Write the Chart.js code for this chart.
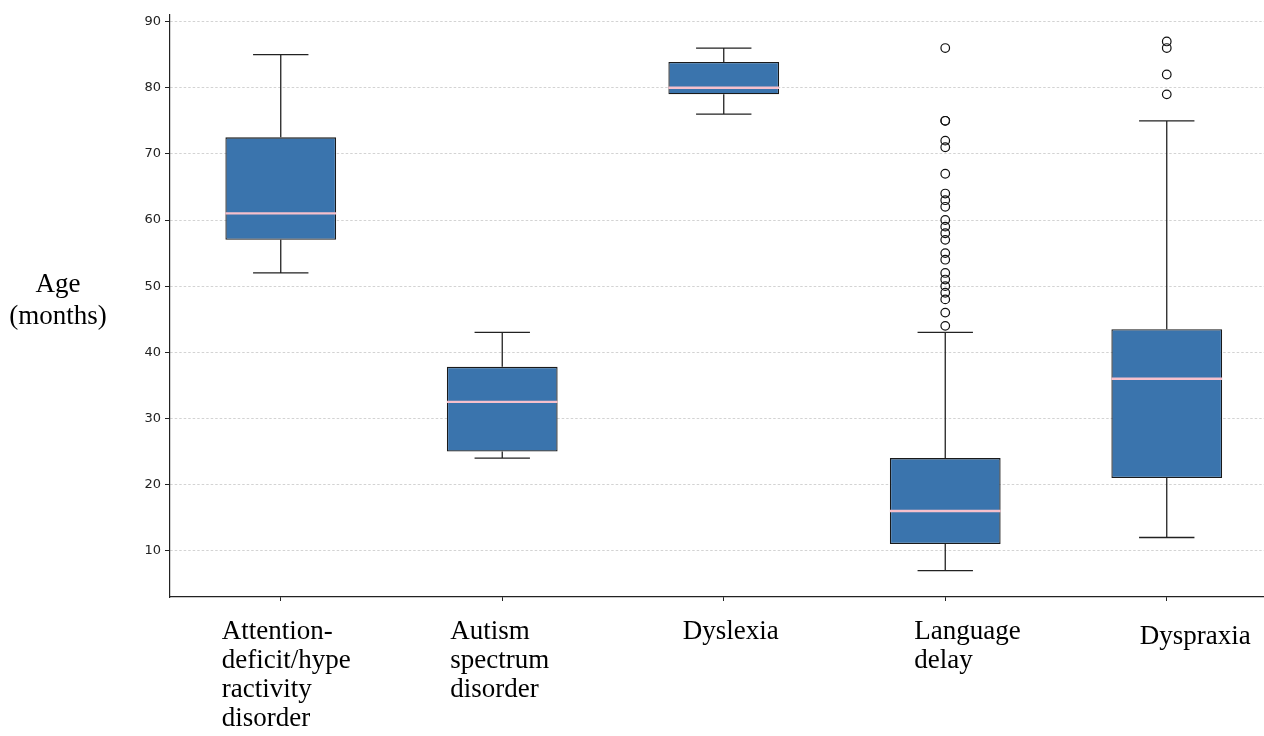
<!DOCTYPE html>
<html>
<head>
<meta charset="utf-8">
<script src="https://cdn.jsdelivr.net/npm/chart.js@4.4.1/dist/chart.umd.min.js"></script>
<style>
  html, body { margin: 0; padding: 0; background: #fff; overflow: hidden; }
  #wrap { position: relative; width: 1283px; height: 736px; }
</style>
</head>
<body>
<div id="wrap"><canvas id="myChart"></canvas></div>
<script>
// categories (one array of lines per box)
var categories = [
	[ 'Attention-', 'deficit/hype', 'ractivity', 'disorder' ],
	[ 'Autism', 'spectrum', 'disorder' ],
	[ 'Dyslexia' ],
	[ 'Language', 'delay' ],
	[ 'Dyspraxia' ]
];
var yTitle = [ 'Age', '(months)' ];
var yTicks = [ 10, 20, 30, 40, 50, 60, 70, 80, 90 ];

// box statistics, age in months
var whiskerLow = [ 52, 24, 76, 7, 12 ];
var q1 = [ 57, 25, 79, 11, 21 ];
var median = [ 61, 32.5, 80, 16, 36 ];
var q3 = [ 72.5, 37.8, 83.9, 24, 43.5 ];
var whiskerHigh = [ 85, 43, 86, 43, 75 ];
var outliers = [
	[],
	[],
	[],
	[ 86, 75, 75, 72, 71, 67, 64, 63, 62, 60, 59, 58, 57, 55, 54, 52, 51, 50, 49, 48, 46, 44 ],
	[ 87, 86, 82, 79 ]
];

// style bits
var boxWidth = 0.5;
var capWidth = 0.25;
var labelShift = [ -59, -52, -41, -31, -27 ];
var labelDrop = [ 42, 42, 42, 42, 47 ];
var serif = '"Liberation Serif", "Times New Roman", serif';

var boxData = categories.map(function(c, i) {
	return { x : i + 1, y : [ q1[i], q3[i] ] };
});
var medianData = [];
var whiskerData = [];
var outlierData = [];
categories.forEach(function(c, i) {
	var x = i + 1;
	medianData.push({ x : x - boxWidth / 2, y : median[i] }, { x : x + boxWidth / 2, y : median[i] }, { x : x, y : null });
	whiskerData.push(
		{ x : x, y : whiskerLow[i] }, { x : x, y : q1[i] }, { x : x, y : null },
		{ x : x, y : q3[i] }, { x : x, y : whiskerHigh[i] }, { x : x, y : null },
		{ x : x - capWidth / 2, y : whiskerLow[i] }, { x : x + capWidth / 2, y : whiskerLow[i] }, { x : x, y : null },
		{ x : x - capWidth / 2, y : whiskerHigh[i] }, { x : x + capWidth / 2, y : whiskerHigh[i] }, { x : x, y : null }
	);
	outliers[i].forEach(function(v) {
		outlierData.push({ x : x, y : v });
	});
});

// 직접 그리는 글자들 (x 라벨, y 제목)
var textPlugin = {
	id : 'textLabels',
	afterDraw : function(chart) {
		var ctx = chart.ctx;
		var area = chart.chartArea;
		var xScale = chart.scales.x;
		ctx.save();
		ctx.font = '27px ' + serif;
		ctx.fillStyle = '#000';
		ctx.textAlign = 'left';
		ctx.textBaseline = 'alphabetic';
		categories.forEach(function(lines, i) {
			var left = xScale.getPixelForValue(i + 1) + labelShift[i];
			lines.forEach(function(line, j) {
				ctx.fillText(line, left, area.bottom + labelDrop[i] + j * 29);
			});
		});
		ctx.textAlign = 'center';
		var mid = (area.top + area.bottom) / 2;
		yTitle.forEach(function(line, j) {
			ctx.fillText(line, 58, mid - 14 + j * 32);
		});
		ctx.restore();
	}
};

var ctx = document.getElementById('myChart');
var myChart = new Chart(ctx, {
	type : 'bar',
	data : {
		datasets : [ {
			type : 'bar',
			data : boxData,
			backgroundColor : '#3a74ad',
			borderColor : '#1a1a1a',
			borderWidth : 1.3,
			borderSkipped : false,
			barPercentage : boxWidth,
			categoryPercentage : 1,
			order : 3
		}, {
			type : 'line',
			data : whiskerData,
			borderColor : '#222',
			borderWidth : 1.3,
			pointRadius : 0,
			fill : false,
			spanGaps : false,
			order : 2
		}, {
			type : 'line',
			data : medianData,
			borderColor : '#f6c0cc',
			borderWidth : 2.4,
			pointRadius : 0,
			fill : false,
			spanGaps : false,
			order : 1
		}, {
			type : 'scatter',
			data : outlierData,
			pointStyle : 'circle',
			pointRadius : 4.3,
			backgroundColor : 'rgba(255,255,255,0)',
			borderColor : '#111',
			borderWidth : 1.2,
			order : 0
		} ]
	},
	options : {
		responsive : true,
		maintainAspectRatio : false,
		animation : false,
		layout : {
			padding : { left : 125, top : 15, right : 2, bottom : 0 }
		},
		plugins : {
			legend : { display : false },
			tooltip : { enabled : false }
		},
		scales : {
			x : {
				type : 'linear',
				min : 0.5,
				max : categories.length + 0.5,
				offset : false,
				afterBuildTicks : function(axis) {
					axis.ticks = categories.map(function(c, i) { return { value : i + 1 }; });
				},
				afterFit : function(axis) { axis.height = 139; },
				ticks : { display : false },
				grid : {
					offset : false,
					drawOnChartArea : false,
					drawTicks : true,
					tickLength : 4,
					tickColor : '#222',
					tickWidth : 1
				},
				border : { display : true, color : '#222', width : 1.2 }
			},
			y : {
				type : 'linear',
				min : 3,
				max : 91,
				afterBuildTicks : function(axis) {
					axis.ticks = yTicks.map(function(v) { return { value : v }; });
				},
				afterFit : function(axis) { axis.width = 45; },
				ticks : {
					padding : 4,
					color : '#222',
					font : { family : '"DejaVu Sans", sans-serif', size : 13 }
				},
				grid : {
					color : '#c8c8c8',
					lineWidth : 0.8,
					drawTicks : true,
					tickLength : 5,
					tickColor : '#222',
					tickWidth : 1
				},
				border : { display : true, color : '#222', width : 1.2, dash : [ 2.5, 2 ] }
			}
		}
	},
	plugins : [ textPlugin ]
});
</script>
</body>
</html>
